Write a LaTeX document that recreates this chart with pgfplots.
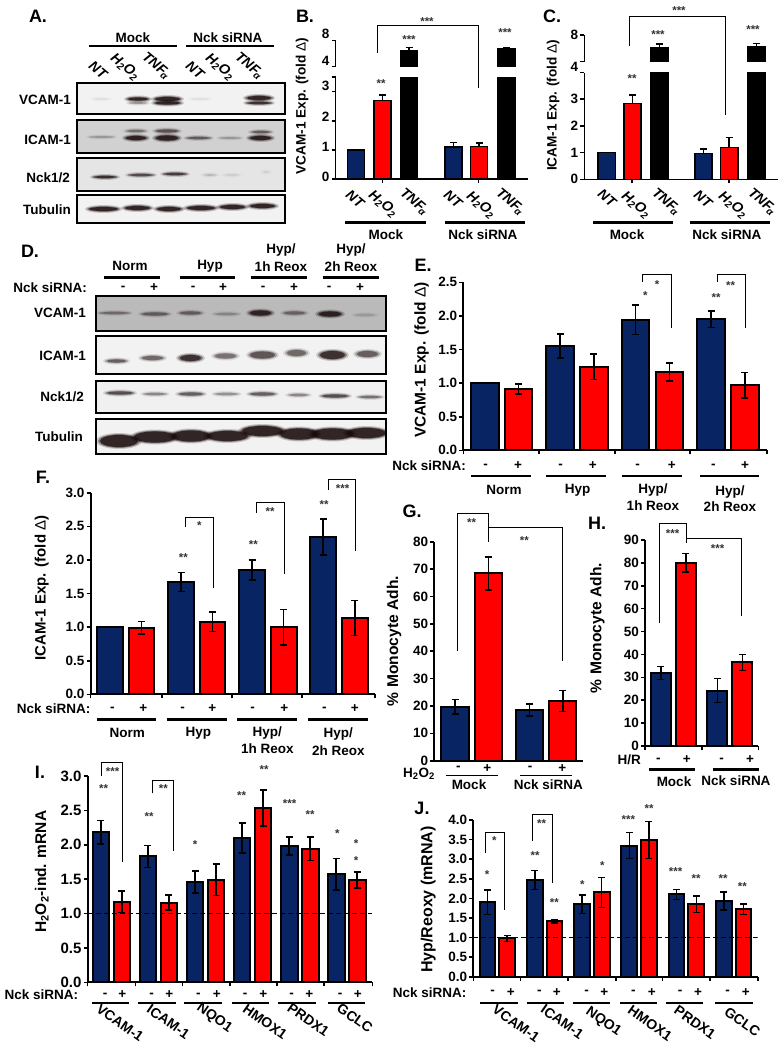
\documentclass[border=0pt]{standalone}
\usepackage{fontspec}
\setmainfont{Liberation Sans}
\usepackage{pgfplots}
\pgfplotsset{compat=1.18}

\definecolor{navy}{RGB}{8,36,98}
\definecolor{redbar}{RGB}{255,0,0}
\definecolor{bandc}{RGB}{25,10,10}
\newcommand\fs[1]{\fontsize{#1}{#1}\selectfont\bfseries}
\newcommand\hoo{H\textsubscript{2}O\textsubscript{2}}
\newcommand\tnfa{TNF\kern-1.5pt\textsubscript{α}}
\newcommand\dlt{{\mdseries Δ}}

\pgfplotsset{
  panel/.style={scale only axis, axis lines*=left,
    axis line style={line width=2pt},
    ymin=0, tick align=outside, major tick length=4pt,
    tick style={black, line width=1.6pt},
    xticklabels={}, yticklabel style={font=\fs{13.5}, inner sep=2pt}},
  ylab/.style n args={3}{every axis y label/.style={at={(rel axis cs:0,0)},
    xshift=#1pt, yshift=#2pt, rotate=90, anchor=center, font=\fs{#3}}},
  errb/.style={error bars/.cd, y dir=#1, y explicit,
    error bar style={black, line width=1.5pt},
    error mark options={black, rotate=90, line width=1.5pt, mark size=3.5pt}},
  nb/.style={ybar, bar shift=0pt, bar width=#1, fill=navy, draw=black, line width=2pt},
  rb/.style={ybar, bar shift=0pt, bar width=#1, fill=redbar, draw=black, line width=2pt},
  kb/.style={ybar, bar shift=0pt, bar width=#1, fill=black, draw=black, line width=1.5pt},
  topaxis/.style={scale only axis, axis y line*=left, axis x line=none,
    axis line style={line width=1.5pt}, tick align=outside, major tick length=4pt,
    tick style={black, line width=1.4pt}, xtick=\empty,
    yticklabel style={font=\fs{13.5}, inner sep=2pt}, ymin=4, ymax=8},
}

% picture furniture, coordinates are image pixels
\newcommand\lab[4][13.5]{\node[font=\fs{#1}, align=center, inner sep=0pt] at (#2,#3) {#4};}
\newcommand\rlab[3]{\node[font=\fs{13.5}, anchor=east, inner sep=0pt] at (#1,#2) {#3};}
\newcommand\tl[4]{\node[font=\fs{14}, rotate=#3, inner sep=0pt] at (#1,#2) {#4};}
\newcommand\tli[3]{\node[font=\fs{14}\itshape, rotate=-40, inner sep=0pt] at (#1,#2) {#3};}
\newcommand\hl[3]{\draw[line width=2.4pt] (#1,#3) -- (#2,#3);}
\newcommand\hlt[3]{\draw[line width=1.2pt] (#1,#3) -- (#2,#3);}
\newcommand\st[3]{\node[font=\fontsize{11.5}{12}\selectfont\bfseries, text=black!80, inner sep=0pt, yshift=-2.5pt] at (#1,#2) {#3};}
\newcommand\letter[3]{\node[font=\fs{18}, inner sep=0pt] at (#1,#2) {#3};}
\newcommand\signs[2]{\foreach \x/\s in {#2}{\node[font=\fs{13.5}, inner sep=0pt] at (\x,#1) {\s};}}
\newcommand\band[5]{%
  \pgfmathsetmacro\cx{(#1+#2)/2}\pgfmathsetmacro\rx{(#2-#1)/2}\pgfmathsetmacro\ry{#4/2}%
  \pgfmathsetmacro\oa{#5*0.2}\pgfmathsetmacro\ob{#5*0.4}\pgfmathsetmacro\oc{#5*0.75}%
  \fill[bandc, opacity=\oa] (\cx,#3) ellipse [x radius=\rx+2, y radius=\ry+1.5];
  \fill[bandc, opacity=\ob] (\cx,#3) ellipse [x radius=\rx, y radius=\ry+0.4];
  \fill[bandc, opacity=\oc] (\cx,#3) ellipse [x radius=\rx-2, y radius=\ry-0.4];
}
\newcommand\blot[6]{%
  \begin{scope}
    \clip (#1,#2) rectangle (#3,#4);
    \fill[#5] (#1,#2) rectangle (#3,#4);
    \foreach \a/\b/\y/\h/\o in {#6}{\band{\a}{\b}{\y}{\h}{\o}}
  \end{scope}
  \draw[line width=1.4pt] (#1,#2) rectangle (#3,#4);
}

\begin{document}
\begin{tikzpicture}
\path[use as bounding box] (0pt,0pt) rectangle (784pt,-1050pt);

% ---- B
\begin{axis}[panel, at={(335.7pt,-179pt)}, anchor=south west, width=192.5pt, height=102pt,
  axis line style={line width=1.5pt},
  xmin=-0.77, xmax=6.49, ymax=3.5, xtick={1,4.62},
  ytick={0,1,2,3,3.5}, yticklabels={\raisebox{4pt}{0},\raisebox{6pt}{1},\raisebox{8pt}{2},\raisebox{12pt}{3},},
  ylab={-33.7}{73}{13.6}, ylabel={VCAM-1 Exp. (fold \dlt)}]
\addplot[nb=0.64, line width=1.5pt, errb=plus] coordinates {(0,1.0) +- (0,0) (3.68,1.10) +- (0,0.16)};
\addplot[rb=0.64, line width=1.5pt, errb=plus] coordinates {(1,2.69) +- (0,0.2) (4.64,1.11) +- (0,0.13)};
\addplot[kb=0.64] coordinates {(2,6.46) (5.68,6.72)};
\end{axis}
\begin{axis}[topaxis, at={(335.7pt,-66.7pt)}, anchor=south west, width=192.5pt, height=26pt,
  xmin=-0.77, xmax=6.49, ytick={4,8}, yticklabels={\raisebox{12pt}{4},\raisebox{14pt}{8}}]
\addplot[kb=0.64, errb=plus] coordinates {(2,6.46) +- (0,0.46) (5.68,6.72) +- (0,0.2)};
\end{axis}

% ---- C
\begin{axis}[panel, at={(584.3pt,-179.3pt)}, anchor=south west, width=194pt, height=106.7pt,
  axis line style={line width=1.5pt},
  xmin=-0.85, xmax=6.5, ymax=4, xtick={0.96,4.63},
  ytick={0,1,2,3,4}, yticklabels={0,1,2,3,\raisebox{12pt}{4}},
  ylab={-31.3}{74}{13.6}, ylabel={ICAM-1 Exp. (fold \dlt)}]
\addplot[nb=0.65, line width=1.5pt, errb=plus] coordinates {(0,1.0) +- (0,0) (3.66,0.96) +- (0,0.18)};
\addplot[rb=0.65, line width=1.5pt, errb=plus] coordinates {(0.98,2.85) +- (0,0.31) (4.64,1.2) +- (0,0.36)};
\addplot[kb=0.65] coordinates {(2,6.1) (5.67,6.25)};
\end{axis}
\begin{axis}[topaxis, at={(584.3pt,-61.7pt)}, anchor=south west, width=194pt, height=26.7pt,
  xmin=-0.85, xmax=6.5, ytick={4,8}, yticklabels={,8}]
\addplot[kb=0.65, errb=plus] coordinates {(2,6.1) +- (0,0.55) (5.67,6.25) +- (0,0.5)};
\end{axis}

% ---- E
\begin{axis}[panel, at={(463.3pt,-450.3pt)}, anchor=south west, width=303.4pt, height=168pt,
  xmin=-0.635, xmax=8.37, ymax=2.5, xtick={-0.635,1.62,3.86,6.1,8.37},
  ytick={0,0.5,1,1.5,2,2.5}, yticklabels={0.0,0.5,1.0,1.5,2.0,2.5},
  ylab={-41.6}{90.3}{15.5}, ylabel={VCAM-1 Exp. (fold \dlt)}]
\addplot[nb=0.82, errb=both] coordinates {(0,1.0) +- (0,0) (2.24,1.55) +- (0,0.18) (4.48,1.94) +- (0,0.22) (6.72,1.95) +- (0,0.125)};
\addplot[rb=0.82, errb=both] coordinates {(1,0.913) +- (0,0.075) (3.24,1.245) +- (0,0.19) (5.48,1.166) +- (0,0.135) (7.72,0.97) +- (0,0.19)};
\end{axis}

% ---- F
\begin{axis}[panel, at={(90.7pt,-694.3pt)}, anchor=south west, width=284.3pt, height=201.6pt,
  xmin=-0.61, xmax=8.39, ymax=3, xtick={-0.61,1.64,3.87,6.07,8.39},
  ytick={0,0.5,1,1.5,2,2.5,3}, yticklabels={0.0,0.5,1.0,1.5,2.0,2.5,3.0},
  ylab={-49}{106.3}{15}, ylabel={ICAM-1 Exp. (fold \dlt)}]
\addplot[nb=0.81, errb=both] coordinates {(0,1.0) +- (0,0) (2.25,1.67) +- (0,0.14) (4.5,1.85) +- (0,0.15) (6.75,2.34) +- (0,0.27)};
\addplot[rb=0.81, errb=both] coordinates {(1,0.99) +- (0,0.095) (3.25,1.08) +- (0,0.145) (5.5,1.0) +- (0,0.265) (7.75,1.135) +- (0,0.26)};
\end{axis}

% ---- G
\begin{axis}[panel, at={(434.3pt,-760.7pt)}, anchor=south west, width=149pt, height=219pt,
  xmin=-0.62, xmax=3.84, ymax=80, xtick=\empty, ytick={0,10,20,30,40,50,60,70,80},
  yticklabels={0,10,20,30,40,50,60,70,80},
  ylab={-40.3}{119.7}{15.6}, ylabel={\% Monocyte Adh.}]
\addplot[nb=0.81, errb=both] coordinates {(0,19.7) +- (0,2.7) (2.23,18.5) +- (0,2.2)};
\addplot[rb=0.81, errb=both] coordinates {(1,68.4) +- (0,6.1) (3.23,21.8) +- (0,3.9)};
\end{axis}

% ---- H
\begin{axis}[panel, at={(645pt,-746pt)}, anchor=south west, width=113.3pt, height=206pt,
  xmin=-0.63, xmax=3.9, ymax=90, xtick={-0.63,1.64,3.9}, ytick={0,10,20,30,40,50,60,70,80,90},
  yticklabels={0,10,20,30,40,50,60,70,80,90},
  ylab={-47.7}{118}{15.6}, ylabel={\% Monocyte Adh.}]
\addplot[nb=0.8, errb=both] coordinates {(0,31.9) +- (0,2.9) (2.26,24.2) +- (0,5.2)};
\addplot[rb=0.8, errb=both] coordinates {(1,80) +- (0,4) (3.26,36.5) +- (0,3.5)};
\end{axis}

% ---- I
\begin{axis}[panel, at={(87.7pt,-982.3pt)}, anchor=south west, width=284.6pt, height=206.3pt,
  xmin=-0.63, xmax=12.92, ymax=3, xtick={-0.63,1.65,3.89,6.14,8.37,10.62,12.92},
  ytick={0,0.5,1,1.5,2,2.5,3}, yticklabels={0.0,0.5,1.0,1.5,2.0,2.5,3.0},
  yticklabel style={font=\fs{15}},
  ylab={-46}{110.6}{15.5}, ylabel={\hoo-ind. mRNA}]
\addplot[nb=0.8, errb=both] coordinates {(0,2.18) +- (0,0.17) (2.24,1.83) +- (0,0.16) (4.48,1.46) +- (0,0.16) (6.72,2.10) +- (0,0.22) (8.96,1.98) +- (0,0.13) (11.2,1.57) +- (0,0.23)};
\addplot[rb=0.8, errb=both] coordinates {(1,1.17) +- (0,0.155) (3.24,1.16) +- (0,0.11) (5.48,1.49) +- (0,0.23) (7.72,2.535) +- (0,0.265) (9.96,1.94) +- (0,0.17) (12.2,1.49) +- (0,0.115)};
\addplot[black, dash pattern=on 5pt off 3pt, line width=1.2pt] coordinates {(-0.63,1) (12.92,1)};
\end{axis}

% ---- J
\begin{axis}[panel, at={(473.3pt,-976.7pt)}, anchor=south west, width=284.4pt, height=156.7pt,
  xmin=-0.72, xmax=13.72, ymax=4, xtick={-0.72,1.685,4.1,6.51,8.89,11.29,13.72},
  ytick={0,0.5,1,1.5,2,2.5,3,3.5,4}, yticklabels={0.0,0.5,1.0,1.5,2.0,2.5,3.0,3.5,4.0},
  ylab={-45}{77.2}{16}, ylabel={Hyp/Reoxy (mRNA)}]
\addplot[nb=0.8, errb=both] coordinates {(0,1.90) +- (0,0.31) (2.4,2.47) +- (0,0.24) (4.8,1.85) +- (0,0.23) (7.2,3.345) +- (0,0.33) (9.6,2.10) +- (0,0.13) (12,1.93) +- (0,0.23)};
\addplot[rb=0.8, errb=both] coordinates {(1,0.98) +- (0,0.075) (3.4,1.42) +- (0,0.045) (5.8,2.15) +- (0,0.38) (8.2,3.49) +- (0,0.47) (10.6,1.85) +- (0,0.21) (13,1.72) +- (0,0.13)};
\addplot[black, dash pattern=on 5pt off 3pt, line width=1.2pt] coordinates {(-0.72,1) (13.72,1)};
\end{axis}

\begin{scope}[x=1pt, y=-1pt]
% letters
\letter{38}{16}{A.}\letter{305}{16}{B.}\letter{552}{16}{C.}\letter{30}{251}{D.}
\letter{423}{265}{E.}\letter{43}{477}{F.}\letter{412}{511}{G.}\letter{597}{523}{H.}
\letter{40}{772}{I.}\letter{422}{808}{J.}

% ---- A blots
\lab{133}{38}{Mock}\lab{228}{38}{Nck siRNA}
\hlt{89}{177}{46}\hlt{186}{274}{46}
\tli{98}{70}{NT}\tli{125}{67}{\hoo}\tli{156}{66}{\tnfa}
\tli{195}{70}{NT}\tli{220}{67}{\hoo}\tli{249}{66}{\tnfa}
\rlab{71}{100}{VCAM-1}\rlab{71}{140}{ICAM-1}\rlab{70}{178}{Nck1/2}\rlab{71}{210}{Tubulin}
\blot{77}{83}{285}{114}{black!5}{126/150/99/4/1, 128/148/103/2/0.4, 153/182/99/5/1, 153/182/103/4/1, 245/273/98/5/1, 245/273/103/3/0.9, 92/110/99/2/0.07, 190/210/99/2/0.07}
\blot{77}{120}{285}{153}{black!18}{88/115/137/2/0.3, 124/148/138/5/1, 125/147/131/3/0.45, 154/180/138/6/1, 154/180/131/4/0.6, 185/212/138/3/0.55, 218/242/138/2/0.3, 248/273/138/5/1, 250/272/132/3/0.55}
\blot{77}{158}{285}{191}{black!10}{92/118/177/3/0.9, 127/155/175/3/0.7, 162/188/174/3/0.8, 203/217/175/2/0.2, 223/240/175/2/0.1, 262/270/172/2/0.1}
\blot{77}{195}{285}{223}{black!5}{87/120/209/5/1, 123/152/208/5/1, 155/183/209/5/1, 185/217/208/5/1, 218/247/207/5/1, 248/277/206/5/1}

% ---- B furniture
\draw[line width=1pt] (377,53) -- (377,25) -- (478,25) -- (478,88);
\st{427}{19}{***}\st{409}{37}{***}\st{381}{81}{**}\st{505}{30}{***}
\tli{355}{199}{NT}\tli{383}{204}{\hoo}\tli{414}{202}{\tnfa}
\tli{453}{199}{NT}\tli{481}{205}{\hoo}\tli{510}{202}{\tnfa}
\hl{345}{426}{222.5}\hl{445}{525}{222.5}
\lab{386}{235}{Mock}\lab{483}{235}{Nck siRNA}

% ---- C furniture
\draw[line width=1pt] (629,46) -- (629,16) -- (725,16) -- (725,115);
\st{679}{8}{***}\st{658}{32}{***}\st{632}{76}{**}\st{753}{27}{***}
\tli{607}{198}{NT}\tli{636}{205}{\hoo}\tli{666}{202}{\tnfa}
\tli{703}{199}{NT}\tli{733}{205}{\hoo}\tli{762}{202}{\tnfa}
\hl{593}{673}{222.5}\hl{690}{770}{222.5}
\lab{627}{235}{Mock}\lab{727}{235}{Nck siRNA}

% ---- D blots
\lab{130}{266}{Norm}\lab{210}{266}{Hyp}
\lab{281}{250}{Hyp/}\lab{281}{267}{1h Reox}\lab{351}{250}{Hyp/}\lab{351}{267}{2h Reox}
\hl{104}{160}{277.5}\hl{180}{235}{277.5}\hl{251}{307}{277.5}\hl{323}{379}{277.5}
\rlab{87}{288}{Nck siRNA:}
\signs{288}{123/-,154/+,193/-,223/+,263/-,294/+,329/-,360/+}
\rlab{86}{313}{VCAM-1}\rlab{86}{356}{ICAM-1}\rlab{84}{397}{Nck1/2}\rlab{83}{437}{Tubulin}
\blot{96}{296}{386}{331}{black!27}{98/131/313/3/0.4, 140/170/314/4/0.5, 178/203/313/4/0.5, 213/240/314/3/0.25, 248/273/313/6/0.95, 282/307/313/4/0.45, 317/343/314/6/1, 353/377/315/3/0.15}
\blot{96}{336}{386}{374}{black!5}{105/128/361/4/0.6, 140/165/358/5/0.55, 178/203/358/7/0.9, 213/238/356/6/0.5, 248/277/355/8/0.65, 285/308/353/7/0.55, 318/347/355/9/0.9, 355/380/354/7/0.6}
\blot{96}{381}{386}{413}{black!6}{105/135/393/4/0.7, 142/168/394/3/0.4, 177/205/394/4/0.6, 213/240/394/3/0.35, 248/277/394/4/0.6, 287/310/395/3/0.4, 320/350/396/4/0.7, 357/383/397/3/0.5}
\blot{96}{419}{386}{454}{black!5}{98/140/441/13/1, 132/178/437/12/1, 170/212/436/12/1, 205/250/436/11/1, 240/285/431/11/1, 278/320/434/12/1, 310/355/434/12/1, 345/388/433/11/1}

% ---- E furniture
\draw[line width=1pt] (642.7,281.7) -- (642.7,274) -- (671,274) -- (671,328);
\draw[line width=1pt] (717,281.7) -- (717,274) -- (745.3,274) -- (745.3,328);
\st{657}{282}{*}\st{645.3}{293}{*}\st{730.7}{282.7}{**}\st{716}{295}{**}
\rlab{466}{466}{Nck siRNA:}
\signs{466}{485.7/-,518/+,560.7/-,592.7/+,637.7/-,671.7/+,713.3/-,745/+}
\hl{471}{530.7}{475.7}\hl{546}{606}{475.7}\hl{621.7}{681.7}{475.7}\hl{700}{759.3}{475.7}
\lab{504}{490}{Norm}\lab{577.7}{490}{Hyp}\lab{653}{490}{Hyp/}\lab{653}{506}{1h Reox}\lab{730}{492}{Hyp/}\lab{730}{507}{2h Reox}

% ---- F furniture
\draw[line width=1pt] (185,526.7) -- (185,517.3) -- (213.3,517.3) -- (213.3,588.3);
\draw[line width=1pt] (256,512.7) -- (256,502.7) -- (284.3,502.7) -- (284.3,574);
\draw[line width=1pt] (328,490) -- (328,479.3) -- (355.3,479.3) -- (355.3,551);
\st{199.3}{523.3}{*}\st{183.3}{555}{**}\st{270}{509}{**}\st{253.3}{541.7}{**}\st{342.7}{486}{***}\st{324}{502.3}{**}
\rlab{90.7}{709}{Nck siRNA:}
\signs{709}{112.3/-,143.3/+,182.7/-,212.3/+,252.7/-,284.3/+,324.3/-,354.7/+}
\hl{96.7}{156}{719.3}\hl{166.7}{226.7}{719.3}\hl{237.3}{296.7}{719.3}\hl{308.3}{367.7}{719.3}
\lab{127.3}{733}{Norm}\lab{198.3}{733}{Hyp}\lab{267.3}{733}{Hyp/}\lab{267.3}{749}{1h Reox}\lab{338.3}{734}{Hyp/}\lab{338.3}{751}{2h Reox}

% ---- G furniture
\draw[line width=1pt] (457.7,650.7) -- (457.7,513.3) -- (488.3,513.3) -- (488.3,542.3);
\draw[line width=1pt] (488.3,527.7) -- (562.3,527.7) -- (562.3,660.7);
\st{471.5}{520.5}{**}\st{524.3}{537.7}{**}
\lab{419}{774}{\hoo}
\signs{768.3}{458.3/-,487.3/+,530/-,562.3/+}
\hlt{446}{497.7}{775.3}\hlt{520}{571.7}{775.3}
\lab{469}{785}{Mock}\lab{548.3}{785}{Nck siRNA}

% ---- H furniture
\draw[line width=1pt] (659.3,623.3) -- (659.3,523.3) -- (686,523.3) -- (686,543.3);
\draw[line width=1pt] (686,538.3) -- (741,538.3) -- (741,616);
\st{672.7}{530.7}{***}\st{717.7}{546}{***}
\lab{629.3}{760}{H/R}
\signs{760}{658.3/-,686.7/+,721.7/-,750/+}
\hl{649.3}{695}{769.3}\hl{713.3}{759}{769.3}
\lab{674}{781.7}{Mock}\lab{736}{781}{Nck siRNA}

% ---- I furniture
\draw[line width=1pt] (101.3,776) -- (101.3,762.7) -- (122.3,762.7) -- (122.3,861.7);
\draw[line width=1pt] (152.7,793.3) -- (152.7,780) -- (173.7,780) -- (173.7,850.7);
\st{112.7}{769.3}{***}\st{103.7}{786}{**}\st{163.3}{786}{**}\st{149}{814.3}{**}\st{195}{841.7}{*}
\st{241.7}{793.3}{**}\st{264}{767.3}{**}\st{289.7}{801}{***}\st{310}{811.7}{**}
\st{337.3}{830.7}{*}\st{356}{841}{*}\st{356}{857.7}{*}
\rlab{78.3}{995}{Nck siRNA:}
\signs{995}{105/-,122.3/+,151.7/-,169.3/+,198.3/-,216.7/+,245/-,263.3/+,291.7/-,309.3/+,340/-,357.7/+}
\hl{91.7}{129}{1002.7}\hl{138.3}{176}{1002.7}\hl{184}{221.7}{1002.7}\hl{231.7}{269.3}{1002.7}\hl{278.3}{316}{1002.7}\hl{327.7}{365}{1002.7}
\tl{120}{1023}{-35}{VCAM-1}\tl{168.3}{1021.7}{-35}{ICAM-1}\tl{214.3}{1018.3}{-35}{NQO1}
\tl{265}{1021.7}{-35}{HMOX1}\tl{308.3}{1020}{-35}{PRDX1}\tl{355}{1018.3}{-35}{GCLC}

% ---- J furniture
\draw[line width=1pt] (485,853.3) -- (485,832) -- (504.7,832) -- (504.7,910);
\draw[line width=1pt] (532.7,841) -- (532.7,814.3) -- (552,814.3) -- (552,883.3);
\st{494.3}{838.3}{*}\st{487}{871.7}{*}\st{541.7}{821}{**}\st{535}{853.3}{**}\st{554.3}{900}{**}
\st{582.3}{881.7}{*}\st{602.3}{863.3}{*}\st{628.3}{817.3}{***}\st{649}{805.7}{**}
\st{675.7}{868.7}{***}\st{696}{876}{**}\st{723}{876}{**}\st{742.3}{884.3}{**}
\rlab{466.7}{992.3}{Nck siRNA:}
\signs{992.3}{492.7/-,510.7/+,539.3/-,556.7/+,586.7/-,604.3/+,633.3/-,651.7/+,680/-,698/+,727.7/-,745.7/+}
\hl{480}{517.7}{1002.7}\hl{526.7}{564.3}{1002.7}\hl{572.7}{610}{1002.7}\hl{620}{656.7}{1002.7}\hl{666}{703.3}{1002.7}\hl{715}{753.3}{1002.7}
\tl{516}{1023.3}{-35}{VCAM-1}\tl{562.3}{1021.7}{-35}{ICAM-1}\tl{603.3}{1021.7}{-35}{NQO1}
\tl{650}{1023.3}{-35}{HMOX1}\tl{695}{1022.3}{-35}{PRDX1}\tl{742.3}{1021.7}{-35}{GCLC}
\end{scope}
\end{tikzpicture}
\end{document}
